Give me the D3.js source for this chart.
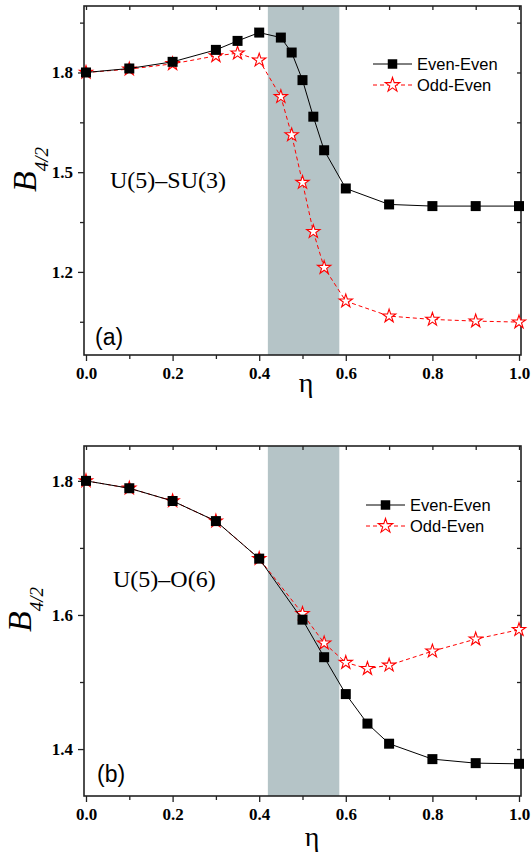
<!DOCTYPE html>
<html>
<head>
<meta charset="utf-8">
<script src="https://cdn.jsdelivr.net/npm/d3@7"></script>
<style>
  body { margin: 0; background: #fff; }
  svg { display: block; }
</style>
</head>
<body>
<div id="chart"></div>
<script>
// panel (a): U(5)-SU(3)
const etaA = [0, 0.1, 0.2, 0.3, 0.35, 0.4, 0.45, 0.475, 0.5, 0.525, 0.55, 0.6, 0.7, 0.8, 0.9, 1.0];
const evenA = [1.800, 1.812, 1.832, 1.868, 1.895, 1.920, 1.905, 1.860, 1.777, 1.667, 1.566, 1.451, 1.403, 1.398, 1.398, 1.398];
const oddA = [1.800, 1.810, 1.826, 1.850, 1.858, 1.837, 1.727, 1.612, 1.469, 1.321, 1.213, 1.112, 1.067, 1.057, 1.052, 1.049];

// panel (b): U(5)-O(6)
const etaB = [0, 0.1, 0.2, 0.3, 0.4, 0.5, 0.55, 0.6, 0.65, 0.7, 0.8, 0.9, 1.0];
const evenB = [1.800, 1.789, 1.770, 1.740, 1.684, 1.593, 1.537, 1.482, 1.438, 1.408, 1.385, 1.379, 1.378];
const oddB = [1.800, 1.789, 1.770, 1.740, 1.684, 1.602, 1.558, 1.529, 1.520, 1.525, 1.546, 1.564, 1.578];

const band = [0.42, 0.585];
const xMajor = [0, 0.2, 0.4, 0.6, 0.8, 1.0];
const xMinor = [0.1, 0.3, 0.5, 0.7, 0.9];
const yMajorA = [1.2, 1.5, 1.8], yMinorA = [1.05, 1.35, 1.65, 1.95];
const yMajorB = [1.4, 1.6, 1.8], yMinorB = [1.5, 1.7];
const seriesNames = ['Even-Even', 'Odd-Even'];

const W = 531, H = 852;
const svg = d3.select('#chart').append('svg').attr('width', W).attr('height', H);

const serif = "'Liberation Serif', 'Times New Roman', serif";
const sans = "'Liberation Sans', Arial, sans-serif";

function drawPanel(p){
  const x = d3.scaleLinear().domain([0, 1]).range([86, 519]);
  const y = d3.scaleLinear().domain(p.yDomain).range([p.bottom, p.top]);
  const left = 84, right = 521;
  const g = svg.append('g');

  // shaded region
  g.append('rect')
    .attr('x', x(band[0])).attr('y', p.top)
    .attr('width', x(band[1]) - x(band[0])).attr('height', p.bottom - p.top)
    .attr('fill', '#b5c4c7');

  const axisStyle = sel => {
    sel.select('.domain').remove();
    sel.selectAll('line').attr('stroke', '#222').attr('stroke-width', 1.3);
    sel.selectAll('text').attr('font-family', serif).attr('font-weight', 'bold')
      .attr('font-size', 17).attr('fill', '#000');
  };

  g.append('g').attr('transform', `translate(0,${p.bottom})`)
    .call(d3.axisBottom(x).tickValues(xMajor).tickFormat(d3.format('.1f')).tickSize(6).tickPadding(6))
    .call(axisStyle);
  g.append('g').attr('transform', `translate(0,${p.bottom})`)
    .call(d3.axisBottom(x).tickValues(xMinor).tickFormat('').tickSize(4))
    .call(axisStyle);
  g.append('g').attr('transform', `translate(0,${p.top})`)
    .call(d3.axisTop(x).tickValues(xMajor.concat(xMinor)).tickFormat('').tickSize(-4))
    .call(axisStyle);

  g.append('g').attr('transform', `translate(${left},0)`)
    .call(d3.axisLeft(y).tickValues(p.yMajor).tickFormat(d3.format('.1f')).tickSize(6).tickPadding(5))
    .call(axisStyle);
  g.append('g').attr('transform', `translate(${left},0)`)
    .call(d3.axisLeft(y).tickValues(p.yMinor).tickFormat('').tickSize(4))
    .call(axisStyle);
  g.append('g').attr('transform', `translate(${right},0)`)
    .call(d3.axisRight(y).tickValues(p.yMajor.concat(p.yMinor)).tickFormat('').tickSize(-4))
    .call(axisStyle);

  // frame
  g.append('rect')
    .attr('x', left).attr('y', p.top)
    .attr('width', right - left).attr('height', p.bottom - p.top)
    .attr('fill', 'none').attr('stroke', '#222').attr('stroke-width', 1.6);

  const line = d3.line().x(d => x(d[0])).y(d => y(d[1]));
  const star = d3.symbol().type(d3.symbolStar).size(55);
  const square = d3.symbol().type(d3.symbolSquare).size(100);

  const odd = p.eta.map((e, i) => [e, p.odd[i]]);
  const even = p.eta.map((e, i) => [e, p.even[i]]);

  g.append('path').datum(odd).attr('d', line)
    .attr('fill', 'none').attr('stroke', '#ff0000').attr('stroke-width', 1)
    .attr('stroke-dasharray', '4,3');
  g.selectAll('.star').data(odd).join('path').attr('class', 'star')
    .attr('d', star).attr('transform', d => `translate(${x(d[0])},${y(d[1])})`)
    .attr('fill', '#fff').attr('stroke', '#ff0000').attr('stroke-width', 1.1);

  g.append('path').datum(even).attr('d', line)
    .attr('fill', 'none').attr('stroke', '#000').attr('stroke-width', 1);
  g.selectAll('.sq').data(even).join('path').attr('class', 'sq')
    .attr('d', square).attr('transform', d => `translate(${x(d[0])},${y(d[1])})`)
    .attr('fill', '#000');

  // legend
  const lg = g.append('g').attr('transform', `translate(${p.legend[0]},${p.legend[1]})`);
  [0, 1].forEach(i => {
    const ly = i * 21;
    lg.append('line').attr('x1', 0).attr('x2', 39).attr('y1', ly).attr('y2', ly)
      .attr('stroke', i ? '#ff0000' : '#000').attr('stroke-width', 1)
      .attr('stroke-dasharray', i ? '4,3' : null);
    lg.append('path')
      .attr('d', i ? d3.symbol().type(d3.symbolStar).size(65)() : d3.symbol().type(d3.symbolSquare).size(90)())
      .attr('transform', `translate(19.5,${ly})`)
      .attr('fill', i ? '#fff' : '#000').attr('stroke', i ? '#ff0000' : 'none').attr('stroke-width', 1.1);
    lg.append('text').attr('x', 44).attr('y', ly + 6)
      .attr('font-family', sans).attr('font-size', 16.5).text(seriesNames[i]);
  });

  // labels
  g.append('text').attr('x', p.title[0]).attr('y', p.title[1])
    .attr('font-family', serif).attr('font-size', 24).text(p.titleText);
  g.append('text').attr('x', p.tag[0]).attr('y', p.tag[1])
    .attr('font-family', sans).attr('font-size', 23).text(p.tagText);

  const yl = g.append('text')
    .attr('transform', `translate(${p.ylab[0]},${p.ylab[1]}) rotate(-90)`)
    .attr('font-family', serif).attr('font-style', 'italic');
  yl.append('tspan').attr('font-size', 34).text('B');
  yl.append('tspan').attr('font-size', 19).attr('dy', 12).text('4/2');

  g.append('text').attr('x', p.xlab[0]).attr('y', p.xlab[1])
    .attr('text-anchor', 'middle').attr('font-family', serif).attr('font-size', 28).text('η');
}

drawPanel({
  top: 6, bottom: 355, yDomain: [0.95, 2.0],
  yMajor: yMajorA, yMinor: yMinorA,
  eta: etaA, even: evenA, odd: oddA,
  legend: [373, 64], title: [110, 188], titleText: 'U(5)\u2013SU(3)',
  tag: [95, 345], tagText: '(a)', ylab: [36, 192], xlab: [306, 392]
});

drawPanel({
  top: 446, bottom: 796, yDomain: [1.33, 1.852],
  yMajor: yMajorB, yMinor: yMinorB,
  eta: etaB, even: evenB, odd: oddB,
  legend: [366, 505], title: [113, 587], titleText: 'U(5)\u2013O(6)',
  tag: [97, 782], tagText: '(b)', ylab: [31, 632], xlab: [312, 846]
});
</script>
</body>
</html>
